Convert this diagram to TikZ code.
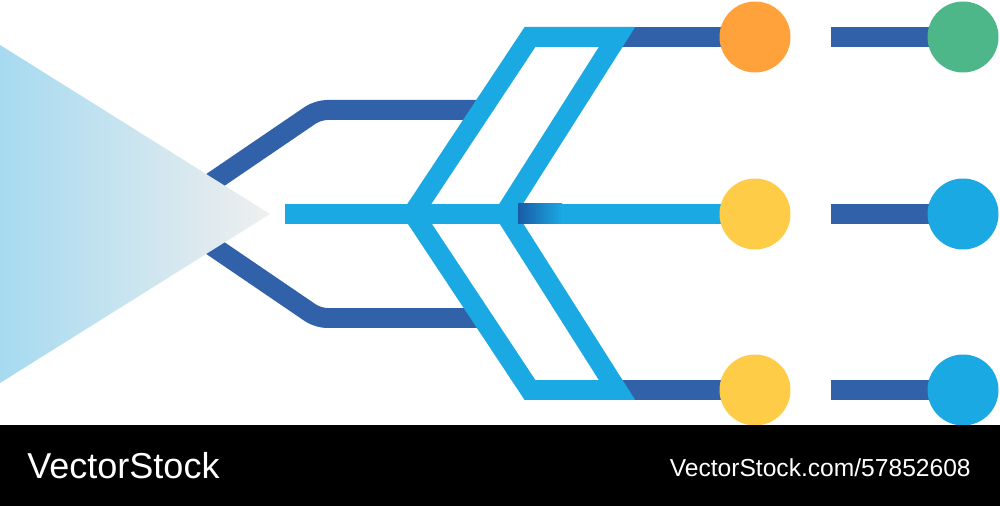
\documentclass[tikz,border=0pt]{standalone}
\usepackage{fontspec}
\newfontfamily\stockfont{Liberation Sans}
\definecolor{darkblue}{HTML}{3161A8}
\definecolor{deepblue}{HTML}{1A5BA5}
\definecolor{lightblue}{HTML}{1BA9E3}
\definecolor{dotorange}{HTML}{FFA23B}
\definecolor{dotyellow}{HTML}{FECC47}
\definecolor{dotgreen}{HTML}{4DB78A}
\definecolor{dotblue}{HTML}{1AA9E3}
\definecolor{fanblue}{HTML}{A6DAF0}
\definecolor{fangray}{HTML}{EFEFEF}
\tikzset{
  darkline/.style={darkblue, line width=0.4cm},
  lightline/.style={lightblue, line width=0.4cm},
  dot/.style={circle, minimum size=1.42cm, inner sep=0pt},
  bandtext/.style={text=white, inner sep=0pt},
}

\begin{document}
\begin{tikzpicture}[x=0.02cm, y=-0.02cm]
\useasboundingbox (0,0) rectangle (1000,506);
\fill[white] (0,0) rectangle (1000,425);
\coordinate (a1) at (755,37);
\coordinate (a2) at (755,214);
\coordinate (a3) at (755,390);
\coordinate (b1) at (963,37);
\coordinate (b2) at (963,214);
\coordinate (b3) at (963,390);
\coordinate (s1) at (180,204);
\coordinate (s2) at (180,224);
\coordinate (k1) at (318,110);
\coordinate (k2) at (318,318);
\coordinate (e1) at (485,110);
\coordinate (e2) at (485,318);
\draw[darkline, rounded corners=0.18cm] (s1) -- (k1) -- (e1);
\draw[darkline, rounded corners=0.18cm] (s2) -- (k2) -- (e2);
\draw[darkline] (600,37) -- (a1);
\draw[darkline] (600,390) -- (a3);
\draw[darkline] (831,37) -- (b1);
\draw[darkline] (831,214) -- (b2);
\draw[darkline] (831,390) -- (b3);
\draw[lightline] (285,214) -- (a2);
\draw[lightline, miter limit=10] (530,37) -- (617,37) -- (505,213.5) -- (617,390) -- (530,390) -- (413,213.5) -- cycle;
\shade[left color=deepblue, right color=lightblue] (518,204) rectangle (562,224);
\node[dot, fill=dotorange] (n1) at (a1) {};
\node[dot, fill=dotyellow] (n2) at (a2) {};
\node[dot, fill=dotyellow] (n3) at (a3) {};
\node[dot, fill=dotgreen] (m1) at (b1) {};
\node[dot, fill=dotblue] (m2) at (b2) {};
\node[dot, fill=dotblue] (m3) at (b3) {};
\shade[left color=fanblue, right color=fangray] (0,45) -- (270,214) -- (0,383) -- cycle;
\fill[black] (0,425) rectangle (1000,506);
\node[bandtext, anchor=base west, font=\stockfont\fontsize{20.5}{20.5}\selectfont] (brand) at (27,478) {VectorStock};
\node[bandtext, anchor=base east, font=\stockfont\fontsize{14}{14}\selectfont] (link) at (971,476) {VectorStock.com/57852608};
\end{tikzpicture}
\end{document}
